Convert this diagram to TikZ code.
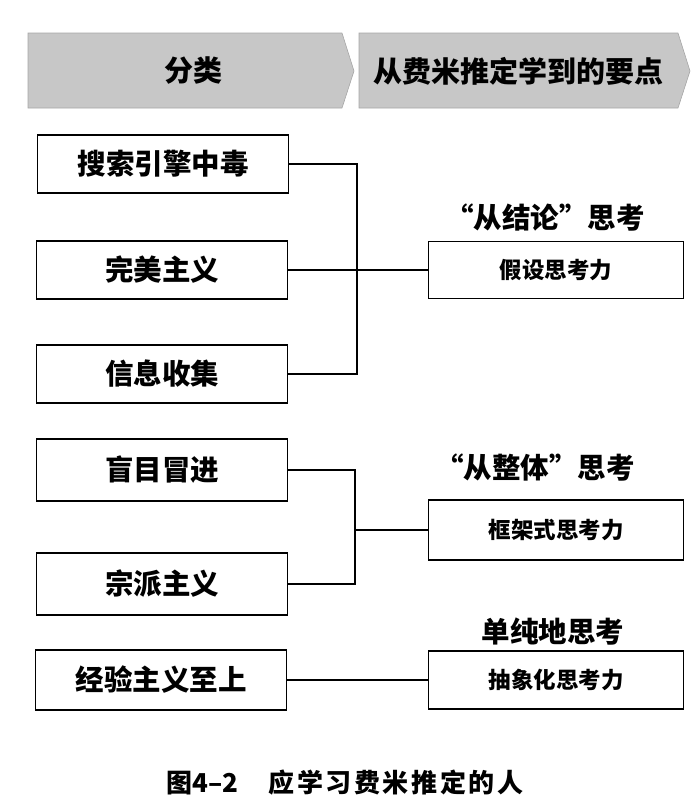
\documentclass[tikz,border=0pt]{standalone}
\usepackage{fontspec}
\setmainfont{Noto Sans CJK SC}[BoldFont={Noto Sans CJK SC Black}]
\begin{document}
\begin{tikzpicture}[x=1pt,y=-1pt,
  lbox/.style={draw, line width=1.3pt, minimum width=251pt, minimum height=58pt, inner sep=0pt,
    font=\bfseries\fontsize{28.5}{28.5}\selectfont},
  rbox/.style={draw, line width=1.3pt, minimum width=255pt, minimum height=57pt, inner sep=0pt,
    font=\bfseries\fontsize{22.5}{22.5}\selectfont},
  lab/.style={font=\bfseries\fontsize{28.5}{28.5}\selectfont, inner sep=0pt},
  head/.style={font=\bfseries\fontsize{29}{29}\selectfont, inner sep=0pt},
  banner/.style={fill=black!22, draw=black!35, line width=0.6pt},
  conn/.style={line width=2pt, line join=miter}]
\useasboundingbox (0,0) rectangle (692,806);
% header banners
\path[banner] (28,33) -- (342,33) -- (354,71) -- (342,108) -- (28,108) -- cycle;
\path[banner] (359,33) -- (678,33) -- (690,71) -- (678,108) -- (359,108) -- cycle;
\node[head] (h1) at (193,71) {分类};
\node[head] (h2) at (518,71) {从费米推定学到的要点};
% left boxes
\node[lbox] (b1) at (163,164) {搜索引擎中毒};
\node[lbox] (b2) at (162,270) {完美主义};
\node[lbox] (b3) at (162,374) {信息收集};
\node[lbox, minimum height=62pt] (b4) at (162,470) {盲目冒进};
\node[lbox, minimum height=62pt] (b5) at (162,584) {宗派主义};
\node[lbox, minimum height=60pt] (b6) at (161,680) {经验主义至上};
% right boxes and labels
\node[rbox] (r1) at (556,270) {假设思考力};
\node[rbox, minimum height=60pt] (r2) at (556,530) {框架式思考力};
\node[rbox, minimum height=58pt] (r3) at (556,680) {抽象化思考力};
\node[lab] (l1) at (545,218) {“从结论”思考};
\node[lab] (l2) at (535,468) {“从整体”思考};
\node[lab] (l3) at (553,632) {单纯地思考};
% connectors
\coordinate (j1) at (357,164);
\coordinate (j2) at (357,374);
\draw[conn] (b1.east) -- (j1) -- (j2) -- (b3.east);
\draw[conn] (b2.east) -- (r1.west);
\coordinate (j3) at (355,470);
\coordinate (j4) at (355,584);
\coordinate (j5) at (355,530);
\draw[conn] (b4.east) -- (j3) -- (j4) -- (b5.east);
\draw[conn] (j5) -- (r2.west);
\draw[conn] (b6.east) -- (r3.west);
% caption
\node[font=\bfseries\fontsize{26}{26}\selectfont, inner sep=0pt] (cap) at (345,783)
  {图4–2\hspace{30pt}{\addfontfeature{LetterSpace=10}应学习费米推定的人}};
\end{tikzpicture}
\end{document}
